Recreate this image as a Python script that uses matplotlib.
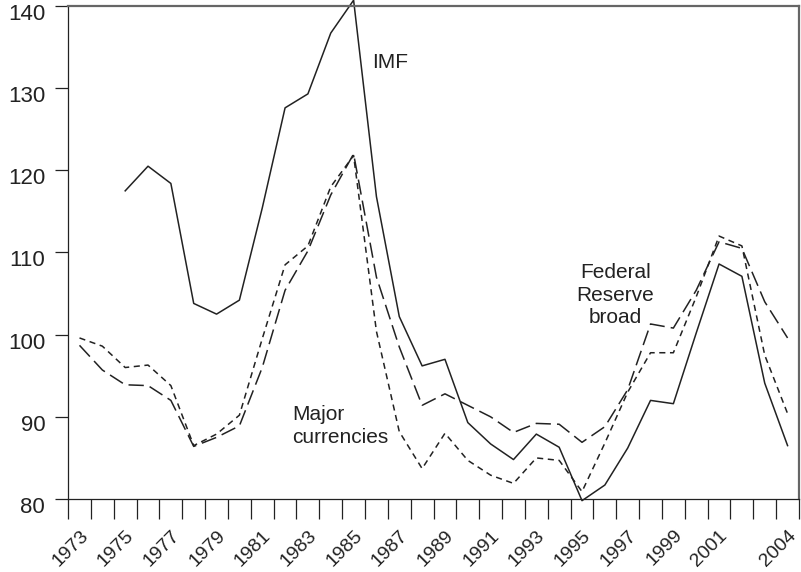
import numpy as np
import matplotlib
matplotlib.use('Agg')
import matplotlib.pyplot as plt
from matplotlib.transforms import ScaledTranslation

plt.rcParams['font.family'] = ['Liberation Sans', 'DejaVu Sans']

years = list(range(1973, 2005))

imf = [np.nan, np.nan, 117.5, 120.5, 118.4, 103.8, 102.5, 104.2, 115.4, 127.6,
       129.3, 136.7, 140.7, 116.8, 102.2, 96.2, 97.0, 89.3, 86.7, 84.8,
       87.9, 86.3, 79.8, 81.7, 86.2, 92.0, 91.6, 100.2, 108.6, 107.1,
       94.1, 86.5]

fed_broad = [98.7, 95.7, 93.9, 93.8, 92.0, 86.4, 87.5, 88.9, 96.0, 105.4,
             110.2, 117.0, 122.0, 107.0, 98.5, 91.4, 92.8, 91.4, 90.0, 88.1,
             89.2, 89.1, 86.9, 88.8, 93.3, 101.3, 100.8, 105.4, 111.3, 110.5,
             104.0, 99.6]

major = [99.6, 98.6, 96.0, 96.3, 93.8, 86.5, 87.9, 90.2, 99.5, 108.5,
         110.8, 118.0, 121.8, 100.4, 88.2, 83.7, 88.0, 84.7, 82.9, 81.9,
         85.0, 84.7, 80.9, 86.8, 93.0, 97.8, 97.8, 104.6, 112.0, 110.8,
         97.5, 90.4]

label_years = list(range(1973, 2002, 2)) + [2004]
y_ticks = [80, 90, 100, 110, 120, 130, 140]

ink = '#222222'

fig = plt.figure(figsize=(8.01, 5.72), dpi=100)
ax = fig.add_axes([0.085, 0.1276, 0.9125, 0.862])

ax.plot(years, imf, color=ink, lw=1.1, clip_on=False)
ax.plot(years, fed_broad, color=ink, lw=1.1, dashes=(10, 4))
ax.plot(years, major, color=ink, lw=1.1, dashes=(4, 3))

ax.set_xlim(1972.5, 2004.5)
ax.set_ylim(80, 140)

# year labels centred on each year, tick marks on the boundaries
ax.set_xticks(label_years)
ax.set_xticklabels([str(y) for y in label_years], rotation=45, ha='right',
                   rotation_mode='anchor', fontsize=14, color=ink)
ax.set_xticks(np.arange(1972.5, 2005, 1), minor=True)
ax.tick_params(axis='x', which='major', length=0, pad=20)
ax.tick_params(axis='x', which='minor', length=14.5, width=0.9, direction='out', color=ink)

ax.set_yticks(y_ticks)
ax.set_yticklabels([str(v) for v in y_ticks], fontsize=16, color=ink)
ax.tick_params(axis='y', length=9.5, width=0.9, direction='out', pad=7, color=ink)
# the printed labels sit a little below their ticks
shift = ScaledTranslation(0, -6 / 100, fig.dpi_scale_trans)
for lab in ax.get_yticklabels():
    lab.set_transform(lab.get_transform() + shift)

for s in ['left', 'bottom']:
    ax.spines[s].set_color(ink)
    ax.spines[s].set_linewidth(0.9)
for s in ['top', 'right']:
    ax.spines[s].set_color('#666666')
    ax.spines[s].set_linewidth(1.6)

ax.text(1985.83, 133.1, 'IMF', fontsize=15, color=ink, va='center', ha='left')
ax.text(1982.31, 88.9, 'Major\ncurrencies', fontsize=15, color=ink,
        va='center', ha='left', linespacing=1.25)
ax.text(1996.45, 104.8, 'Federal\nReserve\nbroad', fontsize=15, color=ink,
        va='center', ha='center', linespacing=1.25)

fig.savefig('out.png', dpi=100)
